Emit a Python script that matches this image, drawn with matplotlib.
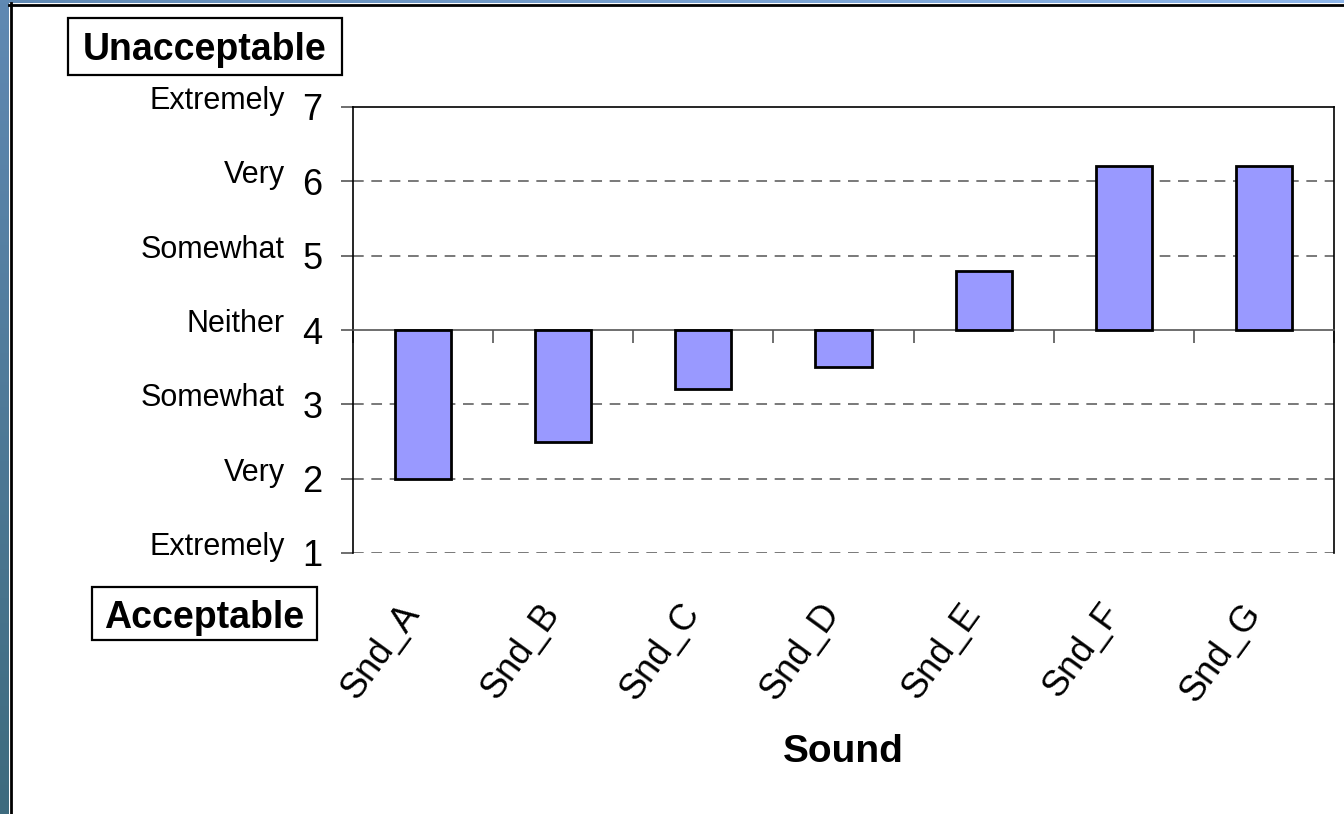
import numpy as np
import matplotlib
matplotlib.use("Agg")
import matplotlib.pyplot as plt
from matplotlib.patches import Rectangle
from matplotlib.lines import Line2D
from matplotlib.colors import LinearSegmentedColormap

plt.rcParams['font.family'] = ['Liberation Sans', 'DejaVu Sans']

# Data
sounds = ["Snd_A", "Snd_B", "Snd_C", "Snd_D", "Snd_E", "Snd_F", "Snd_G"]
ratings = [2.0, 2.5, 3.2, 3.5, 4.8, 6.2, 6.2]
scale_values = [1, 2, 3, 4, 5, 6, 7]
scale_words = ["Extremely", "Very", "Somewhat", "Neither", "Somewhat", "Very", "Extremely"]
neutral = 4

W, H = 1344, 814
fig = plt.figure(figsize=(W / 100, H / 100), dpi=100)
fig.patch.set_facecolor("white")

# Textured blue frame on the left and top edges
left_strip = fig.add_axes([0, 0, 9 / W, 1])
grad = np.linspace(0, 1, 256).reshape(-1, 1)
left_strip.imshow(grad, aspect="auto", cmap=LinearSegmentedColormap.from_list("l", ["#6089B3", "#3E6B7E"]),
                  extent=[0, 1, 0, 1])
left_strip.axis("off")
top_strip = fig.add_axes([0, 1 - 3 / H, 1, 3 / H])
top_strip.imshow(grad.T, aspect="auto", cmap=LinearSegmentedColormap.from_list("t", ["#6089B3", "#8EB6EA"]),
                 extent=[0, 1, 0, 1])
top_strip.axis("off")
fig.add_artist(Line2D([10.5 / W, 10.5 / W], [0, 1 - 3 / H], transform=fig.transFigure,
                      color="black", lw=2.0))
fig.add_artist(Line2D([9 / W, 1], [1 - 4.5 / H, 1 - 4.5 / H], transform=fig.transFigure,
                      color="black", lw=2.0))

# Plot area
ax_l, ax_r, ax_t, ax_b = 353, 1334, 107, 553
ax = fig.add_axes([ax_l / W, 1 - ax_b / H, (ax_r - ax_l) / W, (ax_b - ax_t) / H])
ax.set_facecolor("white")

x = np.arange(len(sounds))
heights = [r - neutral for r in ratings]
ax.bar(x, heights, bottom=neutral, width=0.4, color="#9999FF", edgecolor="black",
       linewidth=2.0, zorder=3)

ax.set_xlim(-0.5, len(sounds) - 0.5)
ax.set_ylim(scale_values[0], scale_values[-1])

# Horizontal grid
for v in scale_values[:-1]:
    if v != neutral:
        ax.axhline(v, color="#555555", lw=1.1, ls=(0, (7, 5)), zorder=1)

# Category axis crosses at the neutral rating
ax.spines["bottom"].set_position(("data", neutral))
ax.spines["bottom"].set_color("#555555")
ax.spines["bottom"].set_linewidth(1.2)
for s in ["left", "top", "right"]:
    ax.spines[s].set_color("black")
    ax.spines[s].set_linewidth(1.2)

ax.set_xticks(np.arange(-0.5, len(sounds), 1.0))
ax.set_xticklabels([])
ax.tick_params(axis="x", direction="out", length=9, width=1.2, color="#555555")

ax.set_yticks(scale_values)
ax.set_yticklabels([str(v) for v in scale_values], fontsize=26)
ax.tick_params(axis="y", direction="out", length=9, width=1.2, color="#555555", pad=13)

# Verbal anchors next to the numeric scale
ytr = ax.get_yaxis_transform()
for v, w in zip(scale_values, scale_words):
    ax.annotate(w, xy=(0, v), xycoords=ytr, xytext=(-ax_l + 285, 6), textcoords="offset pixels",
                ha="right", va="center", fontsize=22, annotation_clip=False)

# Category labels below the plot
xtr = ax.get_xaxis_transform()
for xi, name in zip(x, sounds):
    ax.annotate(name, xy=(xi, 0), xycoords=xtr, xytext=(4, -44), textcoords="offset pixels",
                ha="right", va="top", rotation=54, fontsize=26, annotation_clip=False)

fig.text(843 / W, 1 - 752 / H, "Sound", ha="center", va="center", fontsize=28, fontweight="bold")

# Boxed end-of-scale captions
for (x0, y0, x1, y1), label in [((68, 18, 342, 75), "Unacceptable"), ((92, 587, 317, 640), "Acceptable")]:
    fig.add_artist(Rectangle((x0 / W, 1 - y1 / H), (x1 - x0) / W, (y1 - y0) / H,
                             transform=fig.transFigure, facecolor="white", edgecolor="black", lw=1.6))
    fig.text((x0 + x1) / 2 / W, 1 - (y0 + y1) / 2 / H, label, ha="center", va="center_baseline",
             fontsize=27, fontweight="bold")

fig.savefig("out.png", dpi=100, facecolor=fig.get_facecolor())
